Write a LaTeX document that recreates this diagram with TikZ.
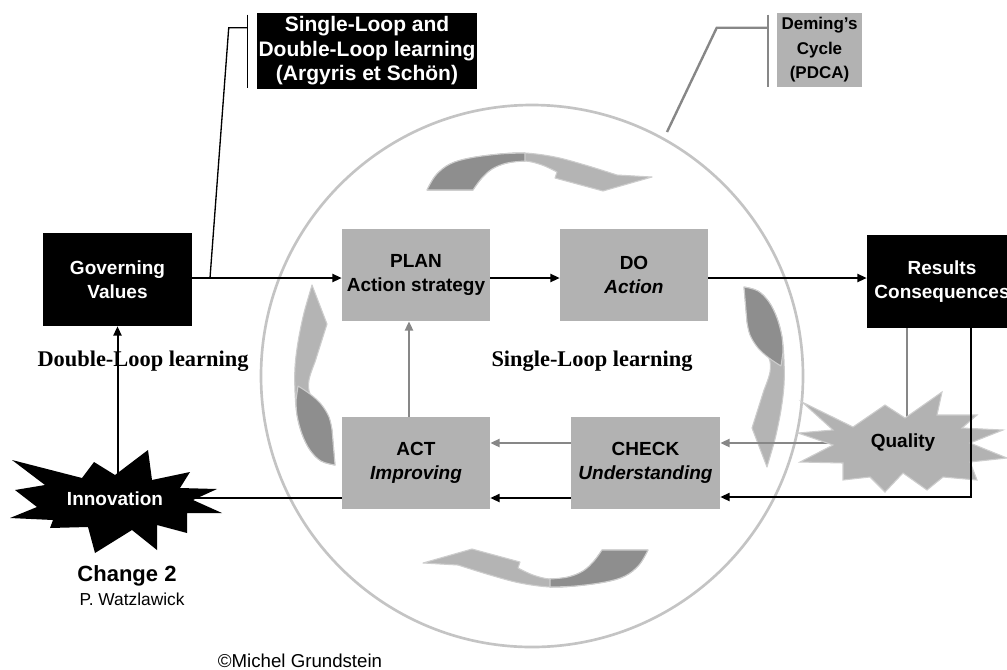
\documentclass[tikz,border=0pt]{standalone}
\usepackage{fontspec}
\setmainfont{Liberation Sans}
\newfontfamily\romanlabel{Liberation Serif}
\usetikzlibrary{arrows.meta,calc}

\definecolor{boxgray}{HTML}{B2B2B2}
\definecolor{linegray}{HTML}{878787}
\definecolor{ringgray}{HTML}{C4C4C4}
\definecolor{ribbondark}{HTML}{8E8E8E}
\definecolor{ribbonlight}{HTML}{B4B4B4}
\definecolor{ribbonedge}{HTML}{CDCDCD}

% curved ribbon arrow above the PLAN/DO row (tail at left, head pointing down)
\newcommand\ribbonHorizontal{%
  \filldraw[ribbonlight, draw=ribbonedge, line width=0.8pt, line join=round]
    (427,190) -- plot[smooth, tension=0.6] coordinates
      {(427,190) (436,175) (450,164) (470,158) (500,154) (525,153) (555,157) (585,165) (617,175)}
    -- (652,177) -- (603,191) -- (555,178)
    -- plot[smooth, tension=0.6] coordinates
      {(557,172) (542,165) (525,161) (507,163) (492,169) (481,179) (473,190)}
    -- cycle;
  \filldraw[ribbondark, draw=ribbonedge, line width=0.8pt, line join=round]
    (427,190) -- plot[smooth, tension=0.6] coordinates
      {(427,190) (436,175) (450,164) (470,158) (500,154) (525,153)}
    -- (525,161)
    -- plot[smooth, tension=0.6] coordinates
      {(525,161) (507,163) (492,169) (481,179) (473,190)}
    -- cycle;
}
% curved ribbon arrow right of the DO/CHECK column (tail at top, head pointing down)
\newcommand\ribbonVertical{%
  \filldraw[ribbonlight, draw=ribbonedge, line width=0.8pt, line join=round]
    (744,287) -- plot[smooth, tension=0.6] coordinates
      {(744,287) (758,291) (769,302) (777,318) (782,337) (784,360) (784,385) (781,410) (776,435) (772,450)}
    -- (767,467) -- (752,428) -- (764,390)
    -- plot[smooth, tension=0.6] coordinates
      {(764,390) (770,372) (769,358) (760,347) (751,336) (747,322)}
    -- cycle;
  \filldraw[ribbondark, draw=ribbonedge, line width=0.8pt, line join=round]
    (744,287) -- plot[smooth, tension=0.6] coordinates
      {(744,287) (758,291) (769,302) (777,318) (782,337) (783,352)}
    -- (781,366)
    -- plot[smooth, tension=0.6] coordinates
      {(781,366) (769,358) (758,348) (750,335) (747,322)}
    -- cycle;
}

\begin{document}
\begin{tikzpicture}[x=0.75pt, y=-0.75pt,
  boxtext/.style={font=\fontsize{14.25}{17.6}\selectfont\bfseries},
  pdcabox/.style={rectangle, inner sep=0pt, align=center, fill=boxgray,
    minimum width=111pt, minimum height=69pt, boxtext},
  loopbox/.style={pdcabox, fill=black, text=white,
    minimum width=111.75pt, minimum height=69.75pt},
  flow/.style={line width=1.5pt, -{Triangle[length=7pt,width=6pt]}},
  grayflow/.style={flow, draw=linegray, line width=1.7pt},
  graylink/.style={draw=linegray, line width=1.7pt},
  tagline/.style={line width=1pt},
  graytagline/.style={draw=linegray, line width=1.8pt},
  looplabel/.style={font=\romanlabel\bfseries\fontsize{16.8}{19}\selectfont, anchor=base},
  burst/.style={line join=miter},
]
\useasboundingbox (0,0) rectangle (1007,669);
\clip (0,0) rectangle (1007,669);

% the PDCA ring
\draw[ringgray, line width=2pt] (532,376) circle[radius=203.25pt];

% the four curved ribbons of the cycle
\ribbonHorizontal
\begin{scope}[rotate around={180:(537.5,370)}]\ribbonHorizontal\end{scope}
\ribbonVertical
\begin{scope}[rotate around={180:(539.5,376)}]\ribbonVertical\end{scope}

% boxes
\node[loopbox] (gov) at (117.5,279.5) {Governing\\Values};
\node[pdcabox] (plan) at (416,275) {PLAN\\Action strategy};
\node[pdcabox] (do) at (634,275) {DO\\\textit{Action}};
\node[pdcabox] (act) at (416,463) {ACT\\\textit{Improving}};
\node[pdcabox, minimum width=111.75pt] (check) at (645.5,463) {CHECK\\\textit{Understanding}};
\node[loopbox, minimum width=112.5pt] (results) at (942,281.5) {Results\\Consequences};

% callouts
\node[rectangle, fill=black, text=white, inner sep=0pt, align=center,
  minimum width=165pt, minimum height=57pt,
  font=\fontsize{15.75}{18.4}\selectfont\bfseries] (argyris) at (367,51)
  {Single-Loop and\\Double-Loop learning\\(Argyris et Schön)};
\node[rectangle, fill=boxgray, inner sep=0pt, align=center,
  minimum width=63.75pt, minimum height=55.5pt,
  font=\fontsize{12.75}{18.4}\selectfont\bfseries] (deming) at (819.5,50)
  {Deming’s\\Cycle\\(PDCA)};

\coordinate (argyristip) at (210,278);
\coordinate (demingtip) at (667,132);
\draw[tagline] ($(argyris.north west)+(-9,2)$) -- ($(argyris.south west)+(-9,-1)$);
\draw[tagline] ($(argyris.north west)+(-9,15)$) -- ++(-19,0) -- (argyristip);
\draw[graytagline] ($(deming.north west)+(-9,2)$) -- ($(deming.south west)+(-9,0)$);
\draw[graytagline] ($(deming.north west)+(-9,15)$) -- ++(-51,0) -- (demingtip);

% single-loop flow
\draw[flow] ($(gov.east)+(0,-1.5)$) -- ($(plan.west)+(0,3)$);
\draw[flow] ($(plan.east)+(0,3)$) -- ($(do.west)+(0,3)$);
\draw[flow] ($(do.east)+(0,3)$) -- ($(results.west)+(0,-3.5)$);
\draw[grayflow] ($(check.west)+(0,-20)$) -- ($(act.east)+(0,-20)$);
\draw[flow] ($(check.west)+(0,35)$) -- ($(act.east)+(0,35)$);
\draw[grayflow] ($(act.north)+(-7,0)$) -- ($(plan.south)+(-7,0)$);

% quality feedback
\coordinate (qualityc) at (903,443);
\draw[graylink] ($(results.south)+(-35,0)$) -- ($(qualityc)+(4,0)$);
\draw[grayflow] ($(qualityc)+(-75,0)$) -- ($(check.east)+(0,-20)$);
\filldraw[burst, fill=boxgray, draw=ribbonedge, line width=0.8pt]
  (802,402) -- (853,427) -- (885,405) -- (905,418) -- (942,392) -- (937,415)
  -- (977,415) -- (962,428) -- (1003,430) -- (970,443) -- (1007,458)
  -- (970,462) -- (977,480) -- (943,477) -- (927,490) -- (903,473)
  -- (885,492) -- (870,477) -- (843,480) -- (843,463) -- (800,462)
  -- (833,445) -- (798,433) -- (833,430) -- cycle;
\node[boxtext] (quality) at (qualityc) {Quality};
\draw[flow] ($(results.south)+(29,0)$) |- ($(check.east)+(0,34)$);

% double-loop path through innovation
\coordinate (innovc) at (115,499);
\draw[line width=1.5pt] ($(act.west)+(0,35)$) -- ($(innovc)+(0,-1)$);
\draw[flow] (innovc -| gov.south) -- (gov.south);
\fill[burst, black]
  (148,450) -- (152,480) -- (190,472) -- (180,488) -- (217,489) -- (193,500)
  -- (222,513) -- (187,513) -- (187,533) -- (157,525) -- (157,550) -- (132,530)
  -- (95,553) -- (88,527) -- (50,528) -- (53,520) -- (10,518) -- (37,507)
  -- (15,490) -- (45,485) -- (12,460) -- (82,478) -- (94,462) -- (115,475) -- cycle;
\node[boxtext, text=white] (innovation) at (innovc) {Innovation};

% labels
\node[looplabel] (dll) at (143,366) {Double-Loop learning};
\node[looplabel] (sll) at (592,366) {Single-Loop learning};
\node[font=\fontsize{16.5}{19}\selectfont\bfseries, anchor=base] (change) at (127,581) {Change 2};
\node[font=\fontsize{13}{15}\selectfont, anchor=base] (watz) at (132,605) {P. Watzlawick};
\node[font=\fontsize{14}{16}\selectfont, anchor=base] (copy) at (300,667) {©Michel Grundstein};
\end{tikzpicture}
\end{document}
